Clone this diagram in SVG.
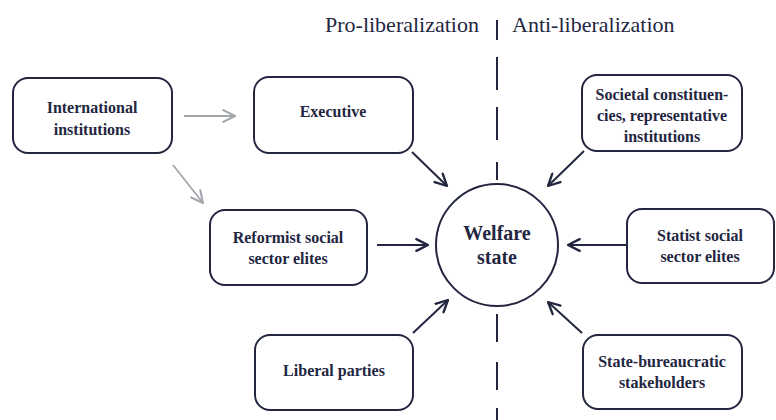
<svg xmlns="http://www.w3.org/2000/svg" width="776" height="420" viewBox="0 0 776 420">
<defs>
<marker id="ah" markerUnits="userSpaceOnUse" markerWidth="14" markerHeight="14" viewBox="0 0 12 12" refX="11" refY="6" orient="auto">
<path d="M1,1 L11,6 L1,11" fill="none" stroke="#23263f" stroke-width="2" stroke-linecap="round" stroke-linejoin="round"/>
</marker>
<marker id="ahg" markerUnits="userSpaceOnUse" markerWidth="14" markerHeight="14" viewBox="0 0 12 12" refX="11" refY="6" orient="auto">
<path d="M1,1 L11,6 L1,11" fill="none" stroke="#a4a6ae" stroke-width="1.8" stroke-linecap="round" stroke-linejoin="round"/>
</marker>
</defs>
<style>
.box{fill:#fff;stroke:#23263f;stroke-width:2}
.t{font-family:"Liberation Serif",serif;font-weight:bold;font-size:16px;fill:#23263f;text-anchor:middle}
.big{font-size:20px}
.hdr{font-family:"Liberation Serif",serif;font-size:22px;fill:#23263f}
.c{stroke:#23263f;stroke-width:2;fill:none;marker-end:url(#ah)}
.g{stroke:#a4a6ae;stroke-width:1.8;fill:none;marker-end:url(#ahg)}
.d{stroke:#23263f;stroke-width:2}
</style>
<rect width="776" height="420" fill="#fff"/>
<g id="header">
<text class="hdr" x="325" y="32">Pro-liberalization</text>
<text class="hdr" x="512" y="32">Anti-liberalization</text>
<line class="d" x1="497" y1="20" x2="497" y2="40"/>
</g>
<g id="divider">
<line class="d" x1="497" y1="57" x2="497" y2="90"/>
<line class="d" x1="497" y1="107" x2="497" y2="140"/>
<line class="d" x1="497" y1="162" x2="497" y2="180"/>
<line class="d" x1="497" y1="314" x2="497" y2="342"/>
<line class="d" x1="497" y1="362" x2="497" y2="390"/>
<line class="d" x1="497" y1="408" x2="497" y2="420"/>
</g>
<g id="connectors">
<line class="g" x1="184" y1="116" x2="235" y2="116"/>
<line class="g" x1="173" y1="165" x2="203" y2="203"/>
<line class="c" x1="412" y1="152" x2="447" y2="186"/>
<line class="c" x1="584" y1="151" x2="548" y2="186"/>
<line class="c" x1="377" y1="245" x2="428" y2="245"/>
<line class="c" x1="626" y1="245" x2="568" y2="245"/>
<line class="c" x1="413" y1="333" x2="448" y2="300"/>
<line class="c" x1="582" y1="333" x2="548" y2="302"/>
</g>
<g id="international">
<rect class="box" x="13" y="78" width="159" height="75" rx="15"/>
<text class="t" x="92" y="113">International</text>
<text class="t" x="92" y="135">institutions</text>
</g>
<g id="executive">
<rect class="box" x="254" y="77" width="159" height="76" rx="15"/>
<text class="t" x="333" y="117">Executive</text>
</g>
<g id="societal">
<rect class="box" x="582" y="75" width="160" height="76" rx="15"/>
<text class="t" x="662" y="100">Societal constituen-</text>
<text class="t" x="662" y="121">cies, representative</text>
<text class="t" x="662" y="142">institutions</text>
</g>
<g id="reformist">
<rect class="box" x="210" y="210" width="157" height="75" rx="15"/>
<text class="t" x="288" y="243">Reformist social</text>
<text class="t" x="288" y="264">sector elites</text>
</g>
<g id="welfare">
<circle class="box" cx="497" cy="245" r="61"/>
<text class="t big" x="497" y="240">Welfare</text>
<text class="t big" x="497" y="264">state</text>
</g>
<g id="statist">
<rect class="box" x="627" y="209" width="147" height="74" rx="15"/>
<text class="t" x="700" y="241">Statist social</text>
<text class="t" x="700" y="262">sector elites</text>
</g>
<g id="liberal">
<rect class="box" x="255" y="335" width="158" height="75" rx="15"/>
<text class="t" x="334" y="376">Liberal parties</text>
</g>
<g id="statebureaucratic">
<rect class="box" x="583" y="335" width="159" height="74" rx="15"/>
<text class="t" x="662" y="367">State-bureaucratic</text>
<text class="t" x="662" y="388">stakeholders</text>
</g>
</svg>
